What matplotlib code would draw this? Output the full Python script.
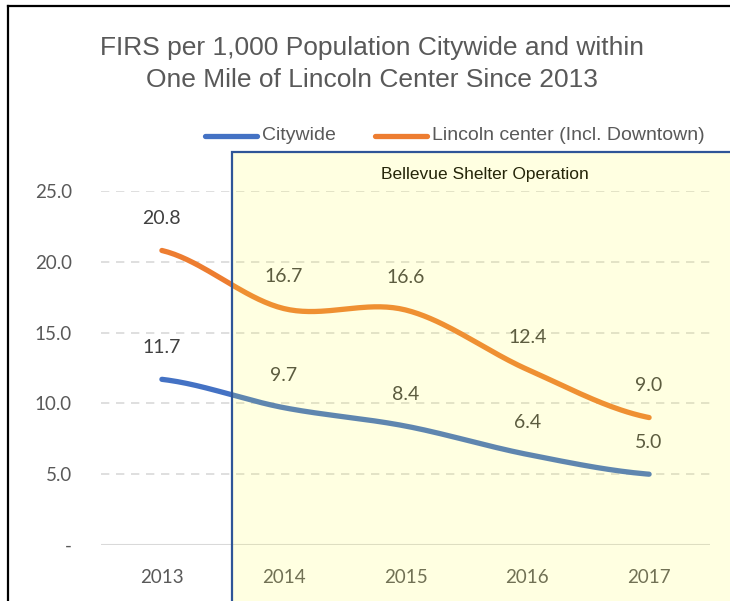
import numpy as np
import matplotlib
matplotlib.use("Agg")
import matplotlib.pyplot as plt
from matplotlib.patches import Rectangle
from matplotlib.lines import Line2D

# data
years = ["2013", "2014", "2015", "2016", "2017"]
citywide = [11.7, 9.7, 8.4, 6.4, 5.0]
lincoln = [20.8, 16.7, 16.6, 12.4, 9.0]
y_ticks = [0, 5, 10, 15, 20, 25]
y_tick_labels = ["-", "5.0", "10.0", "15.0", "20.0", "25.0"]

BLUE = "#4472C4"
ORANGE = "#ED7D31"
NUM_FONT = ["Lato", "DejaVu Sans"]
NARROW_FONT = ["Liberation Sans", "DejaVu Sans"]


def smooth(xs, ys, n=40):
    # catmull-rom style smoothing like excel's "smoothed line"
    xs = np.asarray(xs, float)
    ys = np.asarray(ys, float)
    px = np.concatenate([[2 * xs[0] - xs[1]], xs, [2 * xs[-1] - xs[-2]]])
    py = np.concatenate([[ys[0]], ys, [ys[-1]]])
    out_x, out_y = [], []
    for i in range(1, len(px) - 2):
        t = np.linspace(0, 1, n)
        for p, out in ((px, out_x), (py, out_y)):
            p0, p1, p2, p3 = p[i - 1], p[i], p[i + 1], p[i + 2]
            c1 = p1 + (p2 - p0) / 6
            c2 = p2 - (p3 - p1) / 6
            out.extend((1 - t) ** 3 * p1 + 3 * (1 - t) ** 2 * t * c1
                       + 3 * (1 - t) * t ** 2 * c2 + t ** 3 * p2)
    return np.array(out_x), np.array(out_y)


fig = plt.figure(figsize=(7.3, 6.01), dpi=100)
ax = fig.add_axes([101 / 730, 56 / 601, 609 / 730, 354 / 601])

x = np.arange(len(years))
for vals, col in ((citywide, BLUE), (lincoln, ORANGE)):
    sx, sy = smooth(x, vals)
    ax.plot(sx, sy, color=col, lw=3.8, solid_capstyle="round", zorder=3)
    for xi, v in zip(x, vals):
        ax.annotate(f"{v:.1f}", (xi, v), xytext=(0, 23), textcoords="offset points",
                    ha="center", va="center", fontsize=14, color="#404040",
                    family=NUM_FONT, zorder=4)

ax.set_xlim(-0.5, len(years) - 0.5)
ax.set_ylim(0, 25)
ax.set_yticks(y_ticks)
ax.set_yticklabels(y_tick_labels)
ax.set_xticks(x)
ax.set_xticklabels(years)
ax.tick_params(length=0, labelsize=13.5, labelcolor="#595959")
ax.tick_params(axis="x", pad=17)
ax.tick_params(axis="y", pad=21)
for lab in ax.get_xticklabels() + ax.get_yticklabels():
    lab.set_family(NUM_FONT)
for yv in y_ticks[1:]:
    ax.axhline(yv, color="#D9D9D9", lw=1.2, ls=(0, (5, 4)), zorder=1)
ax.axhline(0, color="#D9D9D9", lw=1.5, zorder=1)
for s in ax.spines.values():
    s.set_visible(False)
ax.patch.set_visible(False)

# shaded period overlay
fig.patches.append(Rectangle((232 / 730, 0), 1, 1 - 152 / 601, transform=fig.transFigure,
                             facecolor="#FFFF3C", alpha=0.15, edgecolor="none", zorder=5))
fig.patches.append(Rectangle((232 / 730, -0.01), 1, 1 - 152 / 601 + 0.01,
                             transform=fig.transFigure, facecolor="none",
                             edgecolor="#2F5597", lw=1.6, zorder=6))
fig.text(485 / 730, 1 - 175 / 601, "Bellevue Shelter Operation", ha="center", va="center",
         fontsize=12.5, color="black", family=NARROW_FONT)

# outer frame (top and left)
fig.lines.append(Line2D([8 / 730, 1], [1 - 6 / 601, 1 - 6 / 601], transform=fig.transFigure,
                        color="black", lw=1.6))
fig.lines.append(Line2D([8 / 730, 8 / 730], [0, 1 - 6 / 601], transform=fig.transFigure,
                        color="black", lw=1.6))

# title
fig.text(372 / 730, 1 - 64 / 601,
         "FIRS per 1,000 Population Citywide and within\nOne Mile of Lincoln Center Since 2013",
         ha="center", va="center", fontsize=19, color="#595959", family=NARROW_FONT,
         linespacing=1.4)

# legend
ly = 1 - 136 / 601
fig.lines.append(Line2D([205 / 730, 257 / 730], [ly, ly], transform=fig.transFigure,
                        color=BLUE, lw=3.8, solid_capstyle="round"))
fig.text(262 / 730, ly, "Citywide", ha="left", va="center", fontsize=14,
         color="#595959", family=NARROW_FONT)
fig.lines.append(Line2D([375 / 730, 427 / 730], [ly, ly], transform=fig.transFigure,
                        color=ORANGE, lw=3.8, solid_capstyle="round"))
fig.text(432 / 730, ly, "Lincoln center (Incl. Downtown)", ha="left", va="center",
         fontsize=14, color="#595959", family=NARROW_FONT)

fig.savefig("out.png", dpi=100)
